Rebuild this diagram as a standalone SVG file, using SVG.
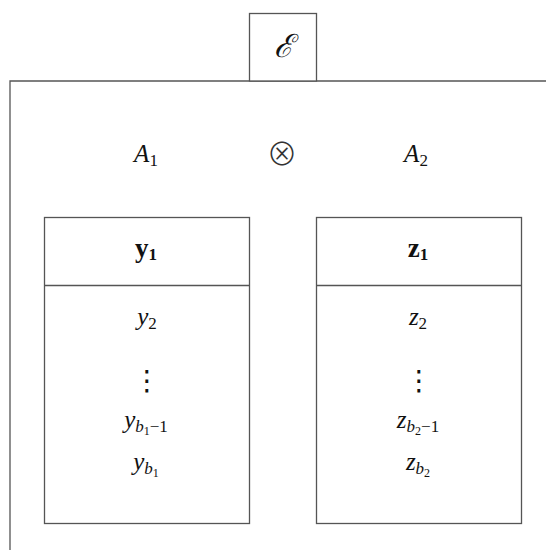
<svg xmlns="http://www.w3.org/2000/svg" width="546" height="550" viewBox="0 0 546 550">
<style>
.ln{fill:none;stroke:#555;stroke-width:1.3}
.bx{fill:#fff;stroke:#555;stroke-width:1.3}
text{font-family:"Liberation Serif","Times New Roman",serif;font-size:25px;fill:#111;text-anchor:middle}
.i{font-style:italic}
.b{font-weight:bold}
.s{font-size:17px;font-style:normal}
.ss{font-size:12px;font-style:normal}
.si{font-size:17px;font-style:italic}
</style>
<g id="connectors">
<path class="ln" d="M10,550 V81 H546"/>
</g>
<g id="env">
<rect class="bx" x="249.5" y="13.5" width="67" height="67.5"/>
<text x="283" y="57" class="i" style="font-family:'DejaVu Serif',serif;font-size:32px">ℰ</text>
</g>
<g id="A1"><text x="146" y="162" class="i">A<tspan class="s" dy="4">1</tspan></text></g>
<g id="otimes"><text x="282" y="165" style="font-family:'Noto Sans CJK JP','DejaVu Sans',sans-serif;font-size:31px;font-weight:300;fill:#333">⊗</text></g>
<g id="A2"><text x="416" y="162" class="i">A<tspan class="s" dy="4">2</tspan></text></g>
<g id="box1">
<rect class="bx" x="44.5" y="217.5" width="205" height="306"/>
<line class="ln" x1="44.5" y1="285.5" x2="249.5" y2="285.5"/>
<text x="146" y="257" class="b" style="font-size:27px">y<tspan class="s" font-weight="bold" dy="3">1</tspan></text>
<text x="147" y="325" class="i">y<tspan class="s" dy="4">2</tspan></text>
<text x="147" y="390" style="font-family:'DejaVu Sans',sans-serif;font-size:28px">⋮</text>
<text x="146" y="428" class="i">y<tspan class="si" dy="4">b</tspan><tspan class="ss" dy="3">1</tspan><tspan class="s" dy="-3">−1</tspan></text>
<text x="146" y="470" class="i">y<tspan class="si" dy="4">b</tspan><tspan class="ss" dy="3">1</tspan></text>
</g>
<g id="box2">
<rect class="bx" x="316.5" y="217.5" width="205" height="306"/>
<line class="ln" x1="316.5" y1="285.5" x2="521.5" y2="285.5"/>
<text x="418" y="257" class="b" style="font-size:27px">z<tspan class="s" font-weight="bold" dy="3">1</tspan></text>
<text x="418" y="325" class="i">z<tspan class="s" dy="4">2</tspan></text>
<text x="419" y="390" style="font-family:'DejaVu Sans',sans-serif;font-size:28px">⋮</text>
<text x="418" y="428" class="i">z<tspan class="si" dy="4">b</tspan><tspan class="ss" dy="3">2</tspan><tspan class="s" dy="-3">−1</tspan></text>
<text x="418" y="470" class="i">z<tspan class="si" dy="4">b</tspan><tspan class="ss" dy="3">2</tspan></text>
</g>
</svg>
